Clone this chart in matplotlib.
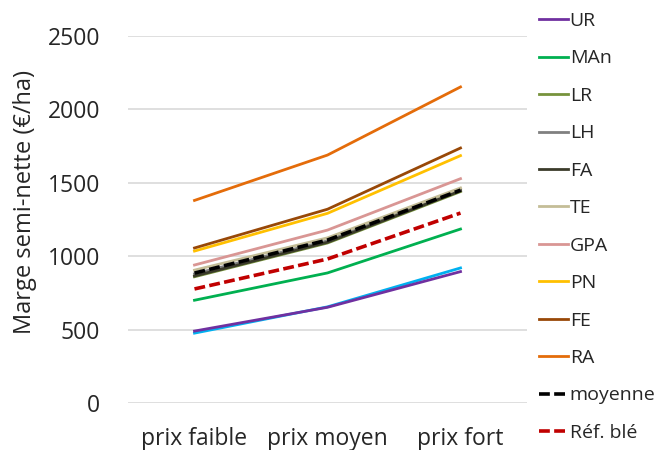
import matplotlib
matplotlib.use("Agg")
import matplotlib.pyplot as plt
from matplotlib.lines import Line2D

plt.rcParams['font.family'] = ['Open Sans', 'DejaVu Sans']

categories = ["prix faible", "prix moyen", "prix fort"]

cyan_extra = [476, 655, 920]
UR = [490, 652, 895]
MAn = [700, 886, 1185]
LR = [860, 1090, 1440]
LH = [880, 1105, 1455]
FA = [865, 1095, 1445]
TE = [905, 1125, 1465]
GPA = [940, 1178, 1528]
PN = [1035, 1292, 1685]
FE = [1056, 1320, 1737]
RA = [1380, 1689, 2153]
moyenne = [885, 1110, 1450]
ref_ble = [777, 981, 1294]

series = [
    ("UR", UR, "#7030A0", "-"),
    ("MAn", MAn, "#00B050", "-"),
    ("LR", LR, "#77933C", "-"),
    ("LH", LH, "#808080", "-"),
    ("FA", FA, "#3B3B2A", "-"),
    ("TE", TE, "#C4BD97", "-"),
    ("GPA", GPA, "#D99694", "-"),
    ("PN", PN, "#FFC000", "-"),
    ("FE", FE, "#984807", "-"),
    ("RA", RA, "#E46C0A", "-"),
]

fig = plt.figure(figsize=(6.62, 4.5), dpi=100)
ax = fig.add_axes([128/662, 1-403/450, (527-128)/662, (403-36)/450])

x = list(range(len(categories)))
ax.plot(x, cyan_extra, color="#00B0F0", lw=2.0, zorder=2)
handles = []
for name, vals, col, ls in series:
    ax.plot(x, vals, color=col, lw=2.0, ls=ls, zorder=2)
    handles.append(Line2D([], [], color=col, lw=2.0, label=name))
dash = (0, (3, 1.2))
ax.plot(x, moyenne, color="black", lw=2.6, ls=dash, zorder=3)
handles.append(Line2D([], [], color="black", lw=2.6, ls=dash, label="moyenne"))
ax.plot(x, ref_ble, color="#C00000", lw=2.6, ls=dash, zorder=3)
handles.append(Line2D([], [], color="#C00000", lw=2.6, ls=dash, label="Réf. blé"))

ax.set_xlim(-0.5, 2.5)
ax.set_ylim(0, 2500)
ax.set_yticks([0, 500, 1000, 1500, 2000, 2500])
ax.set_xticks(x)
ax.set_xticklabels(categories)
ax.tick_params(axis="both", length=0, labelsize=16.5, colors="#262626")
ax.tick_params(axis="y", pad=20)
ax.tick_params(axis="x", pad=17)
for s in ax.spines.values():
    s.set_visible(False)
ax.grid(axis="y", color="#D9D9D9", lw=1.2)
ax.set_axisbelow(True)
ax.set_ylabel("Marge semi-nette (€/ha)", fontsize=17, color="#262626")
ax.yaxis.set_label_coords((37 - 128) / 399, (403 - 202) / 367)

fig.legend(handles=handles, loc="upper left", bbox_to_anchor=(539/662, 1-12/450),
           frameon=False, fontsize=14, handlelength=1.5, handletextpad=0.08,
           labelspacing=1.0, borderaxespad=0, borderpad=0, labelcolor="#262626")

fig.savefig("out.png", dpi=100)
